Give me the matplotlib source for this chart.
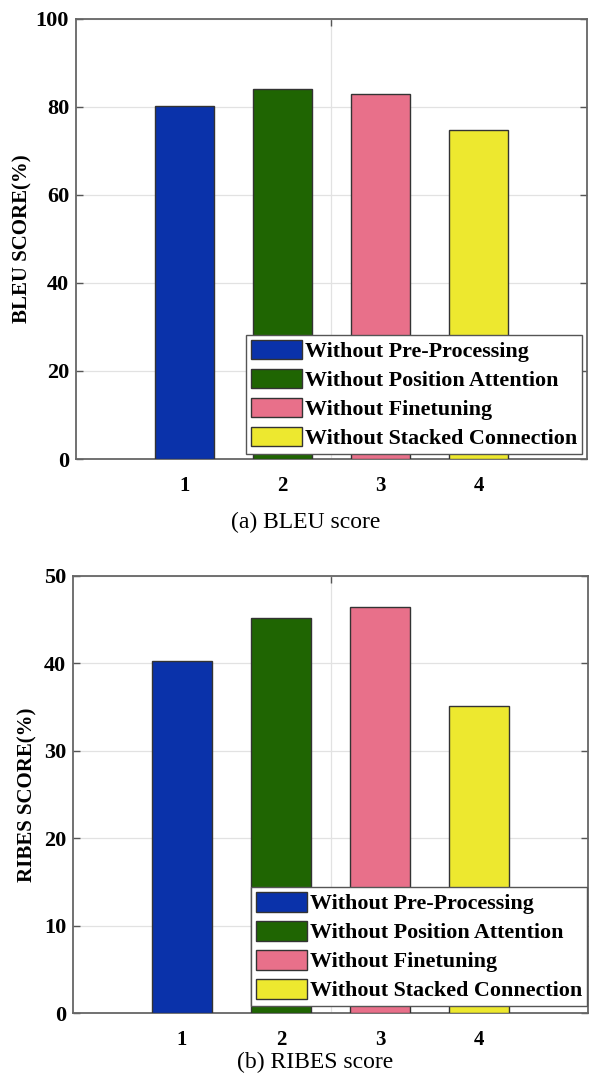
import matplotlib
matplotlib.use("Agg")
import matplotlib.pyplot as plt

# ablation results
positions = [1, 2, 3, 4]
tick_labels = ["1", "2", "3", "4"]
variants = ["Without Pre-Processing", "Without Position Attention",
            "Without Finetuning", "Without Stacked Connection"]
bleu = [80.2, 84.0, 83.0, 74.8]
ribes = [40.3, 45.2, 46.4, 35.1]
colors = ["#0a32aa", "#1f6502", "#e8708a", "#ede82f"]

plt.rcParams["font.family"] = ["Liberation Serif", "DejaVu Serif"]

fig = plt.figure(figsize=(5.89, 10.77), dpi=100)


def draw_panel(ax, values, ymax, ystep, ylabel, label_x, legend_x, legend_y):
    bars = ax.bar(positions, values, width=0.6, color=colors,
                  edgecolor="#333333", linewidth=1.0, zorder=3)
    ax.set_xlim(-0.1, 5.1)
    ax.set_ylim(0, ymax)
    ax.set_yticks(range(0, ymax + 1, ystep))
    ax.set_xticks(positions)
    ax.set_xticklabels(tick_labels)
    ax.set_xticks([2.5], minor=True)
    ax.grid(axis="y", which="major", color="#e2e2e2", linewidth=0.9, zorder=0)
    ax.grid(axis="x", which="minor", color="#e2e2e2", linewidth=0.9, zorder=0)
    ax.tick_params(axis="y", direction="in", left=True, right=True,
                   length=5, width=1.0, color="#555555", labelsize=16, pad=5)
    ax.tick_params(axis="x", which="major", length=0, labelsize=15, pad=12)
    ax.tick_params(axis="x", which="minor", direction="in", top=True,
                   bottom=False, length=5, width=1.0, color="#555555")
    for lab in ax.get_xticklabels() + ax.get_yticklabels():
        lab.set_fontweight("bold")
    for sp in ax.spines.values():
        sp.set_color("#666666")
        sp.set_linewidth(1.3)
    ax.set_ylabel(ylabel, fontsize=15, fontweight="bold")
    ax.yaxis.set_label_coords(label_x, 0.5)
    leg = ax.legend(bars, variants, loc="lower right",
                    bbox_to_anchor=(legend_x, legend_y),
                    prop={"size": 15.8, "weight": "bold"},
                    fancybox=False, framealpha=1, edgecolor="#555555",
                    handlelength=2.3, handleheight=1.0, handletextpad=0.15,
                    labelspacing=0.3, borderpad=0.22, borderaxespad=0)
    leg.set_zorder(5)
    leg.get_frame().set_linewidth(1.0)


ax1 = fig.add_axes([0.129, 0.5738, 0.8676, 0.4088])
draw_panel(ax1, bleu, 100, 20, "BLEU SCORE(%)", -0.086, 0.990, 0.012)
fig.text(306 / 589, 1 - 522 / 1077, "(a) BLEU score", ha="center",
         va="center", fontsize=17)

ax2 = fig.add_axes([0.124, 0.0594, 0.8744, 0.4058])
draw_panel(ax2, ribes, 50, 10, "RIBES SCORE(%)", -0.070, 0.998, 0.016)
fig.text(315 / 589, 1 - 1062 / 1077, "(b) RIBES score", ha="center",
         va="center", fontsize=17)

fig.savefig("out.png", dpi=100)
